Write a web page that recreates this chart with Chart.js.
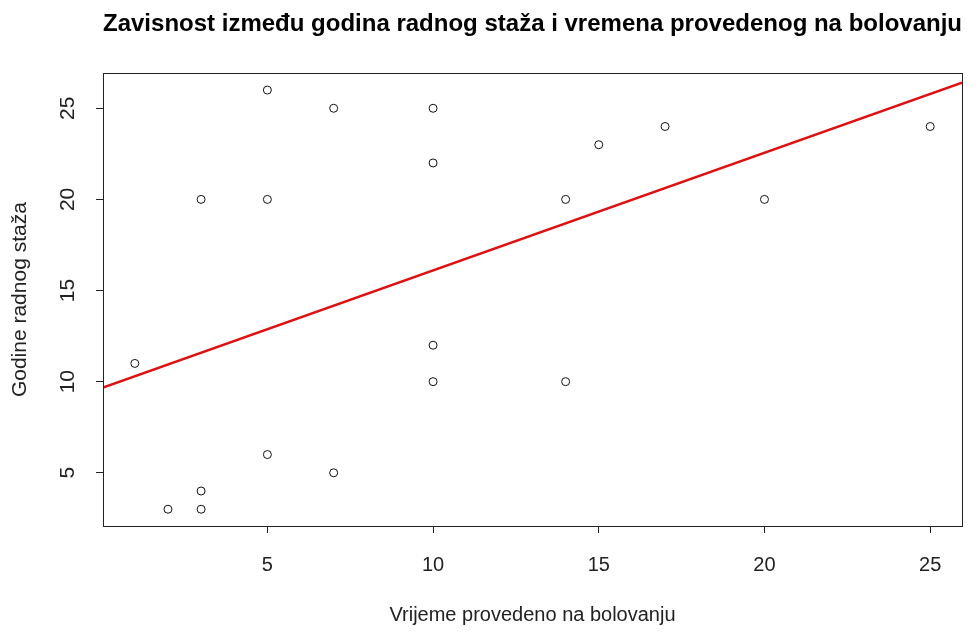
<!DOCTYPE html>
<html>
<head>
<meta charset="utf-8">
<script src="https://cdn.jsdelivr.net/npm/chart.js@4.4.1/dist/chart.umd.min.js"></script>
<style>
  html, body { margin: 0; padding: 0; background: #fff; }
  #wrap { width: 976px; height: 633px; }
</style>
</head>
<body>
<div id="wrap"><canvas id="grafico"></canvas></div>
<script>
// podaci: vrijeme na bolovanju (x) i godine radnog staza (y)
var bolovanje = [1, 2, 3, 3, 3, 5, 5, 5, 7, 7, 10, 10, 10, 10, 14, 14, 15, 17, 20, 25];
var staz = [11, 3, 3, 4, 20, 6, 20, 26, 5, 25, 10, 12, 22, 25, 10, 20, 23, 24, 20, 24];

// regresijska linija (krajnje tocke ocitane sa slike)
var linijaX = [0.04, 25.96];
var linijaY = [9.68, 26.4];

var xTicks = [5, 10, 15, 20, 25];
var yTicks = [5, 10, 15, 20, 25];
var xRange = [0.04, 25.96];
var yRange = [2.08, 26.92];

var naslov = 'Zavisnost između godina radnog staža i vremena provedenog na bolovanju';
var xNaslov = 'Vrijeme provedeno na bolovanju';
var yNaslov = 'Godine radnog staža';

var tocke = [];
for (var i in bolovanje) {
    tocke.push({ x: bolovanje[i], y: staz[i] });
}
var linija = [];
for (var j in linijaX) {
    linija.push({ x: linijaX[j], y: linijaY[j] });
}

var font = "'Liberation Sans', Arial, sans-serif";

// okvir oko podrucja grafa, kao u R-u
var okvir = {
    id: 'okvir',
    afterDraw: function(chart) {
        var a = chart.chartArea;
        var ctx = chart.ctx;
        ctx.save();
        ctx.strokeStyle = '#222';
        ctx.lineWidth = 1;
        ctx.strokeRect(Math.round(a.left) + 0.5, Math.round(a.top) + 0.5,
            Math.round(a.right - a.left), Math.round(a.bottom - a.top));
        ctx.restore();
    }
};

var mostrar = document.getElementById('grafico');
var grafico = new Chart(mostrar, {
    type: 'scatter',
    data: {
        datasets: [{
            label: 'podaci',
            data: tocke,
            pointStyle: 'circle',
            pointRadius: 4,
            pointHoverRadius: 4,
            pointBorderWidth: 1,
            borderColor: '#111',
            backgroundColor: 'rgba(0,0,0,0)'
        }, {
            label: 'regresija',
            type: 'line',
            data: linija,
            borderColor: '#dd1111',
            borderWidth: 2.5,
            pointRadius: 0,
            fill: false
        }]
    },
    plugins: [okvir],
    options: {
        responsive: true,
        maintainAspectRatio: false,
        animation: false,
        layout: { padding: { left: 0, right: 14, top: 0, bottom: 0 } },
        plugins: {
            legend: { display: false },
            tooltip: { enabled: false },
            title: {
                display: true,
                fullSize: false,
                text: naslov,
                color: '#000',
                font: { family: font, size: 24.4, weight: 'bold' },
                padding: { top: 10, bottom: 34 }
            }
        },
        scales: {
            x: {
                type: 'linear',
                min: xRange[0],
                max: xRange[1],
                afterBuildTicks: function(scale) {
                    scale.ticks = xTicks.map(function(v) { return { value: v }; });
                },
                afterFit: function(scale) { scale.height = 107; },
                grid: { drawOnChartArea: false, tickLength: 7, color: '#222' },
                border: { display: true, color: '#222' },
                ticks: {
                    color: '#222',
                    padding: 20,
                    maxRotation: 0,
                    font: { family: font, size: 20 }
                },
                title: {
                    display: true,
                    text: xNaslov,
                    color: '#222',
                    font: { family: font, size: 20 },
                    padding: { top: 0, bottom: 6 }
                }
            },
            y: {
                type: 'linear',
                min: yRange[0],
                max: yRange[1],
                afterBuildTicks: function(scale) {
                    scale.ticks = yTicks.map(function(v) { return { value: v }; });
                },
                afterFit: function(scale) { scale.width = 103; },
                grid: { drawOnChartArea: false, tickLength: 7, color: '#222' },
                border: { display: true, color: '#222' },
                ticks: {
                    color: '#222',
                    padding: 16,
                    minRotation: 90,
                    maxRotation: 90,
                    crossAlign: 'center',
                    font: { family: font, size: 21 }
                },
                title: {
                    display: true,
                    text: yNaslov,
                    color: '#222',
                    font: { family: font, size: 21 },
                    padding: { top: 8, bottom: 0 }
                }
            }
        }
    }
});
</script>
</body>
</html>
